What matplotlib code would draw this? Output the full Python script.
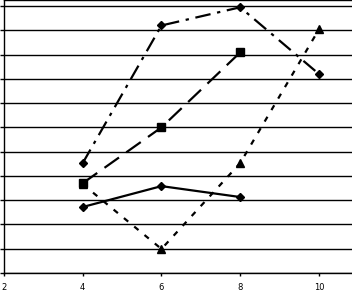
import matplotlib
matplotlib.use("Agg")
import matplotlib.pyplot as plt

# Datos ###############################################################
x_a = [4, 6, 8]
serie_a = [2.72, 3.58, 3.13]          # linea continua, rombos

x_b = [4, 6, 8]
serie_b = [3.70, 6.0, 9.09]           # guiones largos, cuadrados

x_c = [4, 6, 8, 10]
serie_c = [4.53, 10.2, 10.95, 8.2]    # raya-punto, rombos

x_d = [4, 6, 8, 10]
serie_d = [3.66, 0.99, 4.53, 10.04]   # guiones cortos, triangulos

xticks = [2, 4, 6, 8, 10]
yticks = list(range(0, 12))

# Figura ###############################################################
fig = plt.figure(figsize=(3.52, 2.91), dpi=100)
ax = fig.add_axes([4 / 352, 18 / 291, 348 / 352, 273 / 291])

ax.plot(x_a, serie_a, color="black", lw=1.6, marker="D", ms=4.5, zorder=3)
ax.plot(x_b, serie_b, color="black", lw=1.6, dashes=(8, 4), marker="s", ms=6, zorder=3)
ax.plot(x_c, serie_c, color="black", lw=1.6, dashes=(7, 3, 1.5, 3), marker="D", ms=4.5, zorder=3)
ax.plot(x_d, serie_d, color="black", lw=1.6, dashes=(2.5, 3.5), marker="^", ms=6, zorder=3)

ax.set_xlim(2, 10.84)
ax.set_ylim(0, 11.25)
ax.set_xticks(xticks)
ax.set_xticklabels([str(t) for t in xticks], fontsize=6)
ax.set_yticks(yticks)
ax.set_yticklabels([])
ax.tick_params(axis="x", length=2, width=1, pad=5)
ax.tick_params(axis="y", length=3, width=1)

ax.grid(True, axis="y", color="black", lw=1)
ax.spines["right"].set_visible(False)
for s in ["left", "bottom", "top"]:
    ax.spines[s].set_linewidth(1)

fig.savefig("out.png", dpi=100)
